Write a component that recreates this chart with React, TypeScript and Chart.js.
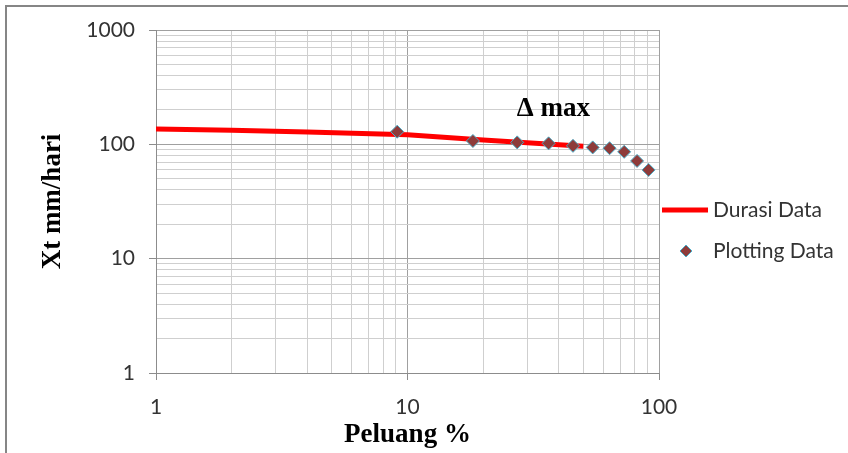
import React, { useEffect, useRef } from 'react';
import { Chart, registerables } from 'chart.js';

Chart.register(...registerables);

// ---- Data ----
const durasiP = [1, 2, 4, 10, 20, 50];
const durasiXt = [136, 133, 128, 121.5, 109, 96];

const plotP = [9.1, 18.2, 27.3, 36.4, 45.5, 54.5, 63.6, 72.7, 81.8, 90.9];
const plotXt = [129, 107, 104, 102, 97, 94, 92.5, 86, 71.6, 59.7];

const xTickValues = [1, 2, 3, 4, 5, 6, 7, 8, 9, 10, 20, 30, 40, 50, 60, 70, 80, 90, 100];
const yTickValues = [1, 2, 3, 4, 5, 6, 7, 8, 9, 10, 20, 30, 40, 50, 60, 70, 80, 90, 100, 200, 300, 400, 500, 600, 700, 800, 900, 1000];
const majorTicks = [1, 10, 100, 1000];

const xTitle = 'Peluang %';
const yTitle = 'Xt mm/hari';
const seriesLabels = ['Durasi Data', 'Plotting Data'];
const annotation = { text: 'Δ max', p: 38, xt: 205 };

const isMajor = (v: number) => majorTicks.includes(v);

const tickFont = { family: 'Lato', size: 21 };
const titleFont = { family: '"Liberation Serif"', size: 27, weight: 'bold' as const };

const gridOpts = {
  color: (c: any) => (c.tick && isMajor(c.tick.value) ? '#a0a0a0' : '#cfcfcf'),
  tickColor: (c: any) => (c.tick && isMajor(c.tick.value) ? '#8c8c8c' : 'rgba(0,0,0,0)'),
  tickLength: 7,
  lineWidth: 1,
};

const framePlugin = {
  id: 'frame',
  beforeDraw(chart: any) {
    const ctx = chart.ctx;
    ctx.save();
    ctx.fillStyle = '#ffffff';
    ctx.fillRect(0, 0, chart.width, chart.height);
    ctx.strokeStyle = '#868686';
    ctx.lineWidth = 2;
    ctx.strokeRect(6, 6, chart.width + 20, chart.height + 20);
    ctx.restore();
  },
};

const extrasPlugin = {
  id: 'extras',
  afterDraw(chart: any) {
    const ctx = chart.ctx;
    const xs = chart.scales.x;
    const ys = chart.scales.y;
    ctx.save();
    // annotation
    ctx.font = 'bold 27px "Liberation Serif"';
    ctx.fillStyle = '#000';
    ctx.textAlign = 'center';
    ctx.textBaseline = 'middle';
    ctx.fillText(annotation.text, xs.getPixelForValue(annotation.p), ys.getPixelForValue(annotation.xt));

    // legend
    const lx = chart.chartArea.right + 3;
    const ly1 = 210;
    const ly2 = 251;
    const ds0 = chart.data.datasets[0];
    const ds1 = chart.data.datasets[1];
    ctx.strokeStyle = ds0.borderColor;
    ctx.lineWidth = ds0.borderWidth;
    ctx.beginPath();
    ctx.moveTo(lx, ly1);
    ctx.lineTo(lx + 46, ly1);
    ctx.stroke();

    const cx = lx + 24;
    const r = 6;
    ctx.beginPath();
    ctx.moveTo(cx, ly2 - r);
    ctx.lineTo(cx + r, ly2);
    ctx.lineTo(cx, ly2 + r);
    ctx.lineTo(cx - r, ly2);
    ctx.closePath();
    ctx.fillStyle = ds1.backgroundColor;
    ctx.fill();
    ctx.strokeStyle = ds1.borderColor;
    ctx.lineWidth = 1;
    ctx.stroke();

    ctx.font = '21px Lato';
    ctx.fillStyle = '#333';
    ctx.textAlign = 'left';
    ctx.fillText(ds0.label, lx + 51, ly1);
    ctx.fillText(ds1.label, lx + 51, ly2);
    ctx.restore();
  },
};

export default function App() {
  const ref = useRef<HTMLCanvasElement | null>(null);

  useEffect(() => {
    if (!ref.current) return;
    const chart = new Chart(ref.current, {
      type: 'scatter',
      data: {
        datasets: [
          {
            label: seriesLabels[0],
            data: durasiP.map((p, i) => ({ x: p, y: durasiXt[i] })),
            showLine: true,
            borderColor: '#ff0000',
            backgroundColor: '#ff0000',
            borderWidth: 5,
            pointRadius: 0,
            order: 2,
          },
          {
            label: seriesLabels[1],
            data: plotP.map((p, i) => ({ x: p, y: plotXt[i] })),
            showLine: false,
            pointStyle: 'rectRot',
            pointRadius: 6.5,
            backgroundColor: '#8e3b3a',
            borderColor: '#4bacc6',
            borderWidth: 1,
            order: 1,
          },
        ],
      },
      options: {
        responsive: false,
        animation: false,
        layout: { padding: { left: 0, top: 30, right: 189, bottom: 0 } },
        plugins: { legend: { display: false }, tooltip: { enabled: false } },
        scales: {
          x: {
            type: 'logarithmic',
            min: 1,
            max: 100,
            afterBuildTicks: (s: any) => {
              s.ticks = xTickValues.map((v) => ({ value: v, major: isMajor(v) }));
            },
            afterFit: (s: any) => {
              s.height = 80;
            },
            ticks: {
              autoSkip: false,
              maxRotation: 0,
              padding: 15,
              font: tickFont,
              color: '#333',
              callback: (v: any) => (isMajor(Number(v)) ? String(v) : ''),
            },
            grid: gridOpts,
            border: { color: '#8c8c8c', width: 1 },
            title: {
              display: true,
              text: xTitle,
              font: titleFont,
              color: '#000',
              padding: { top: 0, bottom: 2 },
            },
          },
          y: {
            type: 'logarithmic',
            min: 1,
            max: 1000,
            afterBuildTicks: (s: any) => {
              s.ticks = yTickValues.map((v) => ({ value: v, major: isMajor(v) }));
            },
            afterFit: (s: any) => {
              s.width = 156;
            },
            ticks: {
              autoSkip: false,
              padding: 14,
              font: tickFont,
              color: '#333',
              callback: (v: any) => (isMajor(Number(v)) ? String(v) : ''),
            },
            grid: gridOpts,
            border: { color: '#8c8c8c', width: 1 },
            title: {
              display: true,
              text: yTitle,
              font: titleFont,
              color: '#000',
              padding: { top: 37, bottom: 0 },
            },
          },
        },
      },
      plugins: [framePlugin, extrasPlugin],
    });
    return () => chart.destroy();
  }, []);

  return (
    <div style={{ position: 'fixed', left: 0, top: 0, width: 848, height: 453, background: '#fff' }}>
      <canvas ref={ref} width={848} height={453} style={{ display: 'block' }} />
    </div>
  );
}
